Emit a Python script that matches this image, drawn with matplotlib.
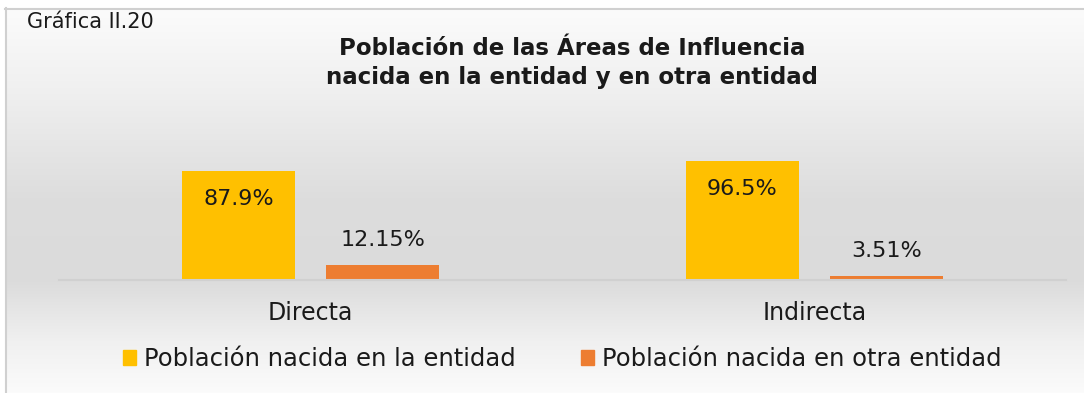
import numpy as np
import matplotlib
matplotlib.use("Agg")
import matplotlib.pyplot as plt
from matplotlib.patches import Patch
from matplotlib.lines import Line2D

plt.rcParams['font.family'] = ['DejaVu Sans']

# Data
categories = ["Directa", "Indirecta"]
series_names = ["Población nacida en la entidad", "Población nacida en otra entidad"]
nacida_entidad = [87.9, 96.5]
nacida_otra = [12.15, 3.51]
labels_entidad = ["87.9%", "96.5%"]
labels_otra = ["12.15%", "3.51%"]

YELLOW = "#FFC000"
ORANGE = "#ED7D31"
TEXT = "#1a1a1a"

W, H = 1084, 393
fig = plt.figure(figsize=(W / 100, H / 100), dpi=100)
fig.patch.set_facecolor("white")

# Background gradient of the chart area
bg = fig.add_axes([6 / W, 0, 1 - 6 / W, 1 - 9 / H], zorder=-10)
ys = np.linspace(9, 393, 400)
stops_y = [9, 90, 200, 280, 340, 393]
stops_v = [0.985, 0.94, 0.865, 0.86, 0.94, 0.985]
vals = np.interp(ys, stops_y, stops_v)
grad = np.repeat(vals[:, None], 2, axis=1)
bg.imshow(np.dstack([grad, grad, grad]), aspect="auto", extent=[0, 1, 0, 1],
          interpolation="bilinear")
bg.set_axis_off()

# Chart border
fig.add_artist(Line2D([5 / W, 1], [1 - 8.5 / H, 1 - 8.5 / H], color="#d0d0d0", lw=1.5))
fig.add_artist(Line2D([5.5 / W, 5.5 / W], [0, 1 - 8 / H], color="#d0d0d0", lw=1.5))

# Plot area
ax = fig.add_axes([59 / W, 1 - 280 / H, 1007 / W, 130 / H])
ax.set_facecolor("none")
x = np.arange(len(categories))
off, bw = 0.143, 0.2247
b1 = ax.bar(x - off, nacida_entidad, bw, color=YELLOW, label=series_names[0])
b2 = ax.bar(x + off, nacida_otra, bw, color=ORANGE, label=series_names[1])
ax.set_xlim(-0.5, 1.5)
ax.set_ylim(0, 105.3)
ax.set_yticks([])
ax.set_xticks(x)
ax.set_xticklabels(categories, fontsize=17, color=TEXT)
ax.tick_params(axis="x", length=0, pad=15)
for s in ["top", "left", "right"]:
    ax.spines[s].set_visible(False)
ax.spines["bottom"].set_color("#d0d0d0")
ax.spines["bottom"].set_linewidth(1.5)

for rect, lab in zip(b1, labels_entidad):
    ax.annotate(lab, (rect.get_x() + rect.get_width() / 2, rect.get_height()),
                xytext=(0, -20), textcoords="offset points", ha="center", va="center",
                fontsize=16, color=TEXT)
for rect, lab in zip(b2, labels_otra):
    ax.annotate(lab, (rect.get_x() + rect.get_width() / 2, rect.get_height()),
                xytext=(0, 18), textcoords="offset points", ha="center", va="center",
                fontsize=16, color=TEXT)

# Titles
fig.text(27 / W, 1 - 22 / H, "Gráfica II.20", ha="left", va="center", fontsize=15, color=TEXT)
fig.text(572 / W, 1 - 63 / H, "Población de las Áreas de Influencia\nnacida en la entidad y en otra entidad",
         ha="center", va="center", fontsize=16.5, fontweight="bold", color=TEXT, linespacing=1.36)

# Legend
handles = [Patch(color=YELLOW), Patch(color=ORANGE)]
fig.legend(handles, series_names, loc="center", bbox_to_anchor=(562 / W, 1 - 359 / H),
           ncol=2, frameon=False, fontsize=17.5, handlelength=0.55, handleheight=0.55,
           handletextpad=0.3, columnspacing=2.7, labelcolor=TEXT)

fig.savefig("out.png", dpi=100)
